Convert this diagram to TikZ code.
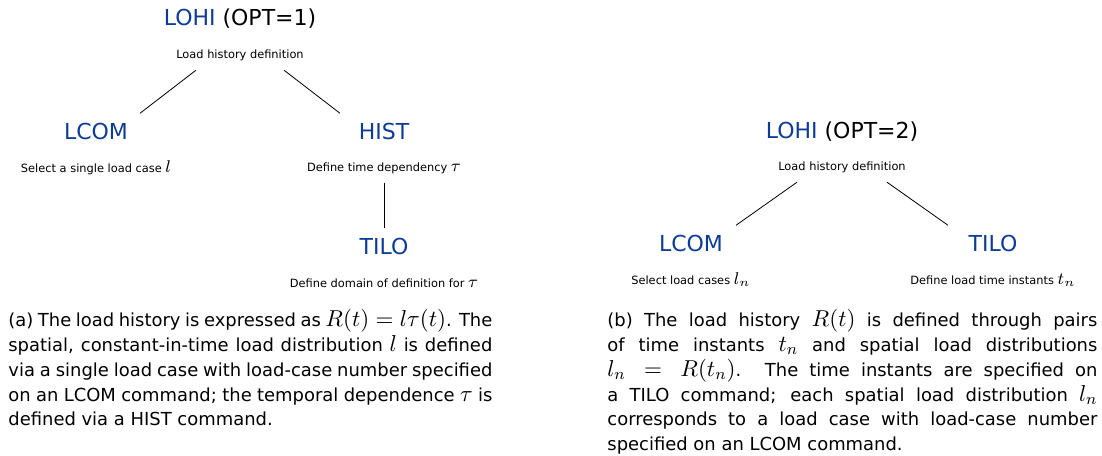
\documentclass[tikz,border=0pt]{standalone}
\usepackage{fix-cm}
\usepackage{fontspec}
\setmainfont[Scale=0.78]{DejaVu Sans}
\newfontfamily\labelfont[Scale=0.67]{DejaVu Sans}
\usepackage{tikz}
\usetikzlibrary{calc,positioning}
\definecolor{cmdblue}{RGB}{12,60,150}

\begin{document}
\begin{tikzpicture}[
  x=0.5pt,y=-0.5pt,
  title/.style={inner sep=0pt,font=\fontsize{14.1}{16}\selectfont},
  cmd/.style={title,text=cmdblue},
  desc/.style={inner sep=0pt,font=\labelfont\fontsize{8.5}{10}\selectfont},
  capt/.style={inner sep=0pt,anchor=north west,align=justify,
               font=\fontsize{11.5}{12.4}\selectfont},
  branch/.style={line width=0.4pt,color=black}
]
\useasboundingbox (0,0) rectangle (1102,455);

% (a) OPT=1
\node[title] (lohiA) at (240,19) {\textcolor{cmdblue}{LOHI} (OPT=1)};
\node[desc]  (defA)  at (240,55) {Load history definition};
\node[cmd]   (lcomA) at (96,131) {LCOM};
\node[desc]  (lcomdA) at (96,168) {Select a single load case $l$};
\node[cmd]   (histA) at (384,131) {HIST};
\node[desc]  (histdA) at (384,168) {Define time dependency $\tau$};
\node[cmd]   (tiloA) at (384,246) {TILO};
\node[desc]  (tilodA) at (384,283) {Define domain of definition for $\tau$};

\draw[branch] ($(defA.south)+(-44,9.3)$) -- ($(lcomA.north)+(44,-9)$);
\draw[branch] ($(defA.south)+(44,9.3)$) -- ($(histA.north)+(-44,-9)$);
\draw[branch] ($(histdA.south)+(0,9.3)$) -- ($(tiloA.north)+(0,-9)$);

\node[capt,text width=242pt] (captA) at (8,309)
  {(a) The load history is expressed as $R(t)=l\tau(t)$. The spatial,
   constant-in-time load distribution $l$ is defined via a single load case
   with load-case number specified on an LCOM command; the temporal
   dependence $\tau$ is defined via a HIST command.};

% (b) OPT=2
\node[title] (lohiB) at (842,132) {\textcolor{cmdblue}{LOHI} (OPT=2)};
\node[desc]  (defB)  at (842,167) {Load history definition};
\node[cmd]   (lcomB) at (691,243) {LCOM};
\node[desc]  (lcomdB) at (691,280) {Select load cases $l_n$};
\node[cmd]   (tiloB) at (993,243) {TILO};
\node[desc]  (tilodB) at (993,280) {Define load time instants $t_n$};

\draw[branch] ($(defB.south)+(-45,9.3)$) -- ($(lcomB.north)+(45,-9)$);
\draw[branch] ($(defB.south)+(45,9.3)$) -- ($(tiloB.north)+(-45,-9)$);

\node[capt,text width=245pt] (captB) at (607,309)
  {\hyphenpenalty=10000 (b) The load history $R(t)$ is defined through pairs\linebreak
   of time instants $t_n$ and spatial load distributions\linebreak
   $l_n=R(t_n)$. The time instants are specified on\linebreak
   a TILO command; each spatial load distribution $l_n$\linebreak
   corresponds to a load case with load-case number\linebreak
   specified on an LCOM command.};
\end{tikzpicture}
\end{document}
